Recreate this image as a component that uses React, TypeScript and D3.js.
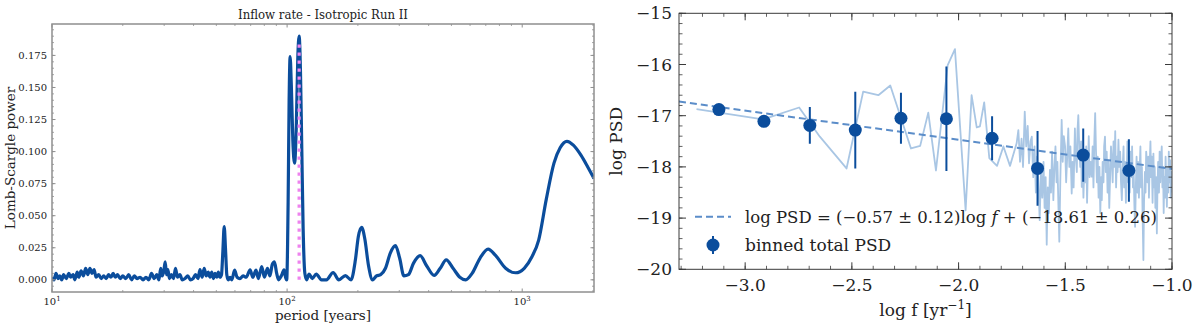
import * as d3 from "d3";

// ---- left panel: Lomb-Scargle periodogram ----
const periods = [
  10.0, 10.2, 10.4, 10.6, 10.8, 11.0, 11.2, 11.5, 11.8, 12.0, 12.3, 12.5, 12.8, 13.0, 13.3, 13.6,
  13.9, 14.2, 14.5, 14.8, 15.1, 15.4, 15.8, 16.2, 16.6, 17.0, 17.4, 17.8, 18.2, 18.6, 19.0, 19.5,
  20.0, 20.6, 21.2, 21.8, 22.4, 23.0, 23.7, 24.4, 25.1, 25.8, 26.5, 27.2, 27.9, 28.5, 29.0, 29.4,
  29.9, 30.3, 30.7, 31.1, 31.6, 32.2, 32.9, 33.5, 34.2, 35.0, 35.8, 36.8, 37.8, 38.8, 39.8, 40.8,
  41.8, 42.6, 43.5, 44.4, 45.3, 46.2, 47.0, 47.8, 48.6, 49.4, 50.2, 51.0, 51.8, 52.6, 53.3, 54.0,
  54.7, 55.4, 56.2, 57.2, 58.2, 59.8, 61.3, 63.0, 65.0, 67.0, 69.6, 71.5, 73.7, 75.5, 78.0, 80.0,
  82.5, 84.5, 86.5, 88.3, 90.3, 92.0, 93.4, 95.0, 97.0, 98.5, 99.6, 101.0, 102.0, 103.0, 104.2,
  105.8, 107.6, 109.5, 111.0, 112.5, 114.0, 115.5, 117.0, 119.0, 121.0, 124.0, 128.0, 133.0, 140.0,
  147.0, 157.0, 166.0, 177.0, 187.0, 195.0, 201.0, 207.5, 214.0, 222.0, 231.0, 240.0, 250.0, 262.0,
  275.0, 289.0, 301.0, 314.0, 328.0, 345.0, 368.0, 392.0, 422.0, 448.0, 475.0, 508.0, 543.0, 575.0,
  612.0, 662.0, 716.0, 770.0, 850.0, 937.0, 1020.0, 1100.0, 1175.0, 1265.0, 1365.0, 1450.0, 1550.0,
  1650.0, 1780.0, 1900.0, 2020.0,
];
const power = [
  0.002, 0.0, 0.005, 0.001, 0.003, 0.0, 0.004, 0.001, 0.005, 0.002, 0.004, 0.0, 0.006, 0.002, 0.007, 0.003,
  0.009, 0.004, 0.009, 0.005, 0.008, 0.002, 0.004, 0.001, 0.003, 0.001, 0.004, 0.002, 0.005, 0.002, 0.004, 0.001,
  0.003, 0.001, 0.004, 0.0, 0.003, 0.001, 0.002, 0.0, 0.002, 0.0, 0.005, 0.001, 0.004, 0.0, 0.009, 0.003,
  0.007, 0.014, 0.004, 0.008, 0.001, 0.004, 0.001, 0.009, 0.002, 0.004, 0.0, 0.001, 0.003, 0.0, 0.001, 0.004,
  0.001, 0.008, 0.002, 0.009, 0.003, 0.006, 0.002, 0.006, 0.001, 0.005, 0.002, 0.006, 0.002, 0.004, 0.022, 0.0416,
  0.024, 0.004, 0.0, 0.002, 0.0, 0.0075, 0.002, 0.001, 0.003, 0.002, 0.0078, 0.002, 0.0075, 0.001, 0.0104, 0.002,
  0.009, 0.003, 0.012, 0.014, 0.005, 0.0, 0.0015, 0.004, 0.0078, 0.002, 0.0, 0.06, 0.14, 0.174, 0.152,
  0.108, 0.091, 0.122, 0.172, 0.19, 0.162, 0.1, 0.04, 0.005, 0.0, 0.0045, 0.001, 0.0045, 0.0,
  0.0, 0.0057, 0.0, 0.0033, 0.0, 0.015, 0.034, 0.041, 0.032, 0.011, 0.0, 0.003, 0.004, 0.009,
  0.021, 0.0266, 0.017, 0.003, 0.004, 0.013, 0.0188, 0.011, 0.0034, 0.009, 0.0156, 0.009, 0.002, 0.0,
  0.005, 0.017, 0.024, 0.019, 0.009, 0.0055, 0.009, 0.018, 0.031, 0.0625, 0.091, 0.103, 0.108,
  0.105, 0.097, 0.088, 0.079,
];
const peakPeriod = 112.5;
const peakPower = 0.187;
const leftYTicks = [0, 0.025, 0.05, 0.075, 0.1, 0.125, 0.15, 0.175];
const leftXTicks = [10, 100, 1000];

// ---- right panel: PSD ----
const rawLogF = [
  -3.228, -2.916, -2.747, -2.65, -2.525, -2.447, -2.376, -2.32, -2.223, -2.18, -2.142, -2.106, -2.051,
  -2.017, -1.967, -1.939, -1.915, -1.9, -1.88, -1.856, -1.82, -1.79, -1.759, -1.728,
  -1.72, -1.712, -1.705, -1.698, -1.69, -1.683, -1.676, -1.67, -1.663, -1.657, -1.65, -1.644, -1.638,
  -1.632, -1.626, -1.62, -1.614, -1.608, -1.602, -1.597, -1.592, -1.587, -1.582, -1.577, -1.572, -1.567,
  -1.562, -1.556, -1.551, -1.546, -1.541, -1.537, -1.532, -1.528, -1.523, -1.517, -1.512, -1.507, -1.501,
  -1.496, -1.491, -1.486, -1.481, -1.476, -1.47, -1.466, -1.461, -1.455, -1.451, -1.446, -1.443, -1.439,
  -1.434, -1.43, -1.426, -1.423, -1.419, -1.415, -1.41, -1.406, -1.402, -1.398, -1.394, -1.39, -1.386,
  -1.381, -1.376, -1.372, -1.368, -1.364, -1.36, -1.356, -1.352, -1.348, -1.344, -1.34, -1.336, -1.332,
  -1.329, -1.325, -1.321, -1.318, -1.314, -1.31, -1.306, -1.302, -1.298, -1.294, -1.29, -1.286, -1.282,
  -1.278, -1.274, -1.27, -1.266, -1.262, -1.258, -1.255, -1.251, -1.247, -1.243, -1.239, -1.235, -1.231,
  -1.227, -1.224, -1.22, -1.216, -1.212, -1.209, -1.205, -1.201, -1.198, -1.194, -1.19, -1.187, -1.183,
  -1.18, -1.176, -1.173, -1.169, -1.166, -1.162, -1.159, -1.155, -1.152, -1.148, -1.145, -1.141, -1.138,
  -1.134, -1.131, -1.127, -1.124, -1.121, -1.118, -1.115, -1.111, -1.108, -1.105, -1.101, -1.098, -1.095,
  -1.091, -1.087, -1.084, -1.081, -1.078, -1.074, -1.071, -1.068, -1.065, -1.061, -1.058, -1.055, -1.052,
  -1.048, -1.045, -1.042, -1.039, -1.036, -1.033, -1.03, -1.027, -1.024, -1.021, -1.018, -1.015, -1.012,
  -1.009, -1.006, -1.003, -1.0,
];
const rawLogPSD = [
  -16.87, -17.07, -16.84, -17.41, -18.03, -16.53, -16.6, -16.41, -17.64, -17.59, -16.94, -18.07, -16.01,
  -15.7, -18.85, -16.6, -17.23, -17.21, -16.74, -17.83, -17.98, -17.6, -17.98, -17.54,
  -17.28, -17.9, -17.45, -18.0, -16.92, -17.6, -17.2, -17.93, -17.5, -17.41, -18.2, -17.6, -18.5,
  -17.8, -18.3, -19.04, -18.1, -18.6, -17.9, -18.8, -18.2, -19.52, -18.4, -18.9, -18.06, -18.5,
  -17.7, -18.65, -18.0, -17.6, -18.3, -17.9, -18.8, -19.46, -18.2, -17.08, -17.9, -17.4, -17.6,
  -18.3, -17.8, -17.25, -18.0, -17.6, -18.52, -17.9, -18.4, -17.25, -17.8, -18.1, -17.3, -16.99,
  -17.7, -18.0, -17.5, -18.39, -17.8, -18.6, -17.9, -18.3, -17.6, -18.7, -18.0, -17.4, -18.2,
  -17.9, -18.19, -17.6, -18.4, -17.5, -16.95, -17.7, -18.3, -17.8, -18.6, -18.0, -18.9, -18.2,
  -18.65, -17.9, -18.3, -17.6, -17.41, -18.1, -17.7, -18.5, -17.9, -18.8, -18.2, -17.6, -17.87,
  -18.3, -17.5, -18.0, -17.3, -18.4, -17.8, -18.1, -17.47, -18.0, -17.7, -18.3, -18.65, -18.0,
  -17.6, -18.4, -17.9, -18.7, -18.1, -17.5, -18.3, -17.8, -18.5, -17.7, -18.2, -17.6, -18.4,
  -18.0, -18.8, -19.17, -18.3, -17.8, -18.5, -17.9, -18.6, -18.1, -17.6, -18.4, -18.0, -18.9,
  -19.82, -18.7, -18.1, -18.5, -17.7, -17.87, -18.3, -17.8, -18.6, -18.0, -17.5, -18.2, -17.8,
  -18.7, -17.74, -18.4, -18.0, -18.8, -18.2, -19.3, -18.4, -17.9, -18.5, -17.7, -18.3, -17.9,
  -17.6, -18.4, -18.0, -18.9, -18.2, -18.6, -17.8, -18.3, -18.78, -18.0, -18.5, -17.7, -18.3,
  -17.87, -18.6, -18.1, -18.5,
];
const binLogF = [-3.123, -2.912, -2.697, -2.484, -2.27, -2.057, -1.843, -1.63, -1.416, -1.202];
const binLogPSD = [-16.88, -17.11, -17.19, -17.28, -17.05, -17.06, -17.44, -18.03, -17.77, -18.07];
const binErr = [0.05, 0.06, 0.36, 0.75, 0.5, 1.02, 0.43, 0.73, 0.52, 0.61];
const fitSlope = -0.57;
const fitIntercept = -18.61;
const rightXTicks = [-3.0, -2.5, -2.0, -1.5, -1.0];
const rightYTicks = [-20, -19, -18, -17, -16, -15];

const darkBlue = "#0b4d9c";
const lightBlue = "#a9c6e4";
const fitBlue = "#5b8dc9";
const serif = "'DejaVu Serif', serif";
const minus = (s: string) => s.replace("-", "\u2212");

function LeftPanel() {
  const x0 = 52, x1 = 594, y0 = 24, y1 = 292;
  const x = d3.scaleLog().domain([10, 2020]).range([x0, x1]);
  const y = d3.scaleLinear().domain([-0.0095, 0.1995]).range([y1, y0]);
  const pts = periods.map((p, i) => [x(p), y(power[i])] as [number, number]);
  const line = d3.line().curve(d3.curveMonotoneX)(pts) ?? "";
  const minorX = x.ticks().filter((t) => !leftXTicks.includes(t));
  const minorY = y.ticks(40);
  const axisCol = "#8f8f8f";
  return (
    <g>
      <defs>
        <clipPath id="clipL">
          <rect x={x0} y={y0} width={x1 - x0} height={y1 - y0} />
        </clipPath>
      </defs>
      <g clipPath="url(#clipL)">
        <path d={line} fill="none" stroke={darkBlue} strokeWidth={3.2} strokeLinejoin="round" />
        <line
          x1={x(peakPeriod)}
          x2={x(peakPeriod)}
          y1={y(0)}
          y2={y(peakPower)}
          stroke="#ee82ee"
          strokeWidth={3.2}
          strokeDasharray="3.2 4.8"
        />
      </g>
      <rect x={x0} y={y0} width={x1 - x0} height={y1 - y0} fill="none" stroke={axisCol} strokeWidth={1.5} />
      {minorY.map((t) => (
        <g key={"my" + t} stroke={axisCol} strokeWidth={0.8}>
          <line x1={x0} x2={x0 + 2} y1={y(t)} y2={y(t)} />
          <line x1={x1} x2={x1 - 2} y1={y(t)} y2={y(t)} />
        </g>
      ))}
      {leftYTicks.map((t) => (
        <g key={"y" + t}>
          <line x1={x0} x2={x0 + 3.5} y1={y(t)} y2={y(t)} stroke={axisCol} strokeWidth={1} />
          <line x1={x1} x2={x1 - 3.5} y1={y(t)} y2={y(t)} stroke={axisCol} strokeWidth={1} />
          <text x={47} y={y(t) + 3.6} textAnchor="end" fontSize={10} fontFamily={serif} fill="#222">
            {d3.format(".3f")(t)}
          </text>
        </g>
      ))}
      {minorX.map((t) => (
        <g key={"mx" + t} stroke={axisCol} strokeWidth={0.8}>
          <line x1={x(t)} x2={x(t)} y1={y1} y2={y1 - 2} />
          <line x1={x(t)} x2={x(t)} y1={y0} y2={y0 + 2} />
        </g>
      ))}
      {leftXTicks.map((t, i) => (
        <g key={"x" + t}>
          <line x1={x(t)} x2={x(t)} y1={y1} y2={y1 - 3.5} stroke={axisCol} strokeWidth={1} />
          <line x1={x(t)} x2={x(t)} y1={y0} y2={y0 + 3.5} stroke={axisCol} strokeWidth={1} />
          <text x={x(t)} y={305} textAnchor="middle" fontSize={10} fontFamily={serif} fill="#222">
            10
            <tspan dy={-4} fontSize={7}>
              {i + 1}
            </tspan>
          </text>
        </g>
      ))}
      <text
        x={(x0 + x1) / 2}
        y={19}
        textAnchor="middle"
        fontSize={12}
        fontFamily={serif}
        fill="#222"
        textLength={170}
        lengthAdjust="spacingAndGlyphs"
      >
        Inflow rate - Isotropic Run II
      </text>
      <text x={(x0 + x1) / 2} y={320} textAnchor="middle" fontSize={13.5} fontFamily={serif} fill="#222">
        period [years]
      </text>
      <text
        transform={`translate(15,${(y0 + y1) / 2}) rotate(-90)`}
        textAnchor="middle"
        fontSize={13.5}
        fontFamily={serif}
        fill="#222"
      >
        Lomb-Scargle power
      </text>
    </g>
  );
}

function RightPanel() {
  const x0 = 679, x1 = 1172, y0 = 13.3, y1 = 269.3;
  const x = d3.scaleLinear().domain([-3.31, -1.0]).range([x0, x1]);
  const y = d3.scaleLinear().domain([-20, -15]).range([y1, y0]);
  const raw = d3.line<number>().x((d) => x(d)).y((_, i) => y(rawLogPSD[i]))(rawLogF) ?? "";
  const fitX = x.domain();
  const minorX = x.ticks(23);
  const minorY = y.ticks(25);
  const axisCol = "#3a3a3a";
  return (
    <g>
      <defs>
        <clipPath id="clipR">
          <rect x={x0} y={y0} width={x1 - x0} height={y1 - y0} />
        </clipPath>
      </defs>
      <g clipPath="url(#clipR)">
        <path d={raw} fill="none" stroke={lightBlue} strokeWidth={1.8} strokeLinejoin="round" />
        <line
          x1={x(fitX[0])}
          x2={x(fitX[1])}
          y1={y(fitSlope * fitX[0] + fitIntercept)}
          y2={y(fitSlope * fitX[1] + fitIntercept)}
          stroke={fitBlue}
          strokeWidth={2}
          strokeDasharray="7 4"
        />
        {binLogF.map((f, i) => (
          <g key={"b" + i}>
            <line
              x1={x(f)}
              x2={x(f)}
              y1={y(binLogPSD[i] - binErr[i])}
              y2={y(binLogPSD[i] + binErr[i])}
              stroke={darkBlue}
              strokeWidth={2}
            />
            <circle cx={x(f)} cy={y(binLogPSD[i])} r={6.5} fill={darkBlue} />
          </g>
        ))}
      </g>
      <rect x={x0} y={y0} width={x1 - x0} height={y1 - y0} fill="none" stroke={axisCol} strokeWidth={1} />
      {minorY.map((t) => (
        <g key={"my" + t} stroke={axisCol} strokeWidth={0.8}>
          <line x1={x0} x2={x0 + 3.5} y1={y(t)} y2={y(t)} />
          <line x1={x1} x2={x1 - 3.5} y1={y(t)} y2={y(t)} />
        </g>
      ))}
      {minorX.map((t) => (
        <g key={"mx" + t} stroke={axisCol} strokeWidth={0.8}>
          <line x1={x(t)} x2={x(t)} y1={y1} y2={y1 - 3.5} />
          <line x1={x(t)} x2={x(t)} y1={y0} y2={y0 + 3.5} />
        </g>
      ))}
      {rightYTicks.map((t) => (
        <g key={"y" + t}>
          <line x1={x0} x2={x0 + 7} y1={y(t)} y2={y(t)} stroke={axisCol} />
          <line x1={x1} x2={x1 - 7} y1={y(t)} y2={y(t)} stroke={axisCol} />
          <text x={672} y={y(t) + 6} textAnchor="end" fontSize={17} fontFamily={serif} fill="#222">
            {minus(String(t))}
          </text>
        </g>
      ))}
      {rightXTicks.map((t) => (
        <g key={"x" + t}>
          <line x1={x(t)} x2={x(t)} y1={y1} y2={y1 - 7} stroke={axisCol} />
          <line x1={x(t)} x2={x(t)} y1={y0} y2={y0 + 7} stroke={axisCol} />
          <text x={x(t)} y={291} textAnchor="middle" fontSize={17} fontFamily={serif} fill="#222">
            {minus(d3.format(".1f")(t))}
          </text>
        </g>
      ))}
      <text x={(x0 + x1) / 2} y={316} textAnchor="middle" fontSize={17} fontFamily={serif} fill="#222">
        log f [yr
        <tspan dy={-7} fontSize={12}>
          {"\u22121"}
        </tspan>
        <tspan dy={7}>]</tspan>
      </text>
      <text
        transform={`translate(622,${(y0 + y1) / 2}) rotate(-90)`}
        textAnchor="middle"
        fontSize={17}
        fontFamily={serif}
        fill="#222"
      >
        log PSD
      </text>
      {/* legend */}
      <line x1={695} x2={731} y1={216.7} y2={216.7} stroke={fitBlue} strokeWidth={2} strokeDasharray="7 4" />
      <text x={745} y={223} fontSize={16.5} fontFamily={serif} fill="#222">
        log PSD = (−0.57 ± 0.12)log <tspan fontStyle="italic">f</tspan> + (−18.61 ± 0.26)
      </text>
      <line x1={713} x2={713} y1={236} y2={254} stroke={darkBlue} strokeWidth={2} />
      <circle cx={713} cy={245} r={6.5} fill={darkBlue} />
      <text x={745} y={251} fontSize={17} fontFamily={serif} fill="#222">
        binned total PSD
      </text>
    </g>
  );
}

export default function App() {
  return (
    <svg
      width={1200}
      height={328}
      style={{ position: "absolute", left: 0, top: 0, background: "#fff" }}
    >
      <LeftPanel />
      <RightPanel />
    </svg>
  );
}
